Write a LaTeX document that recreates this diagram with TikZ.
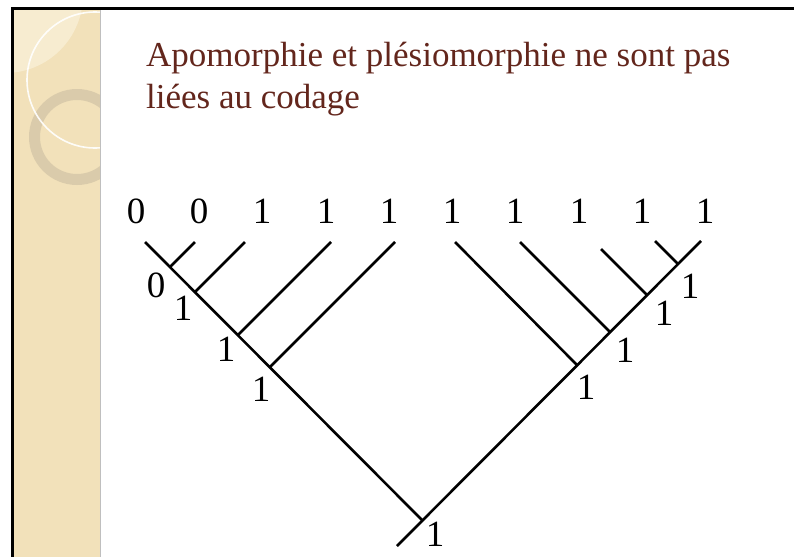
\documentclass[tikz,border=0pt]{standalone}
\usepackage{fontspec}
\setmainfont{Liberation Serif}
\definecolor{slidebeige}{RGB}{242,225,186}
\definecolor{lightbeige}{RGB}{247,236,208}
\definecolor{ringbeige}{RGB}{210,196,166}
\definecolor{titlered}{RGB}{99,38,28}
\usetikzlibrary{positioning}

\begin{document}
\begin{tikzpicture}[x=1pt,y=-1pt,
      title/.style={anchor=base west,inner sep=0pt,text=titlered,font=\fontsize{35}{42}\selectfont},
      tip/.style={anchor=base,inner sep=0pt,font=\fontsize{37}{44}\selectfont},
      state/.style={inner sep=0pt,font=\fontsize{37}{44}\selectfont},
      branch/.style={line width=2.6pt},
      frame/.style={line width=2.8pt}
    ]
    \useasboundingbox (0,0) rectangle (794,557);
    \fill[white] (0,0) rectangle (794,557);

    \fill[slidebeige] (14,10) rectangle (100,557);
    \begin{scope}
      \clip (14,10) rectangle (100,557);
      \fill[lightbeige] (5,-5) circle (78);
      \fill[ringbeige,opacity=0.75,even odd rule] (77,137) circle (48) (77,137) circle (37);
      \draw[white,line width=1.6pt,opacity=0.9] (95,80) circle (68);
    \end{scope}
    \draw[black!25,line width=1pt] (100,10) -- (100,557);
    \draw[frame] (11,8.6) -- (794,8.6);
    \draw[frame] (12.6,8) -- (12.6,557);

    \node[title] (title1) at (146,66) {Apomorphie et plésiomorphie ne sont pas};
    \node[title] (title2) at (146,108) {liées au codage};

    \node[tip] (a) at (136,223) {0};
    \node[tip] (b) at (199,223) {0};
    \node[tip] (c) at (262,223) {1};
    \node[tip] (d) at (326,223) {1};
    \node[tip] (e) at (389,223) {1};
    \node[tip] (f) at (452,223) {1};
    \node[tip] (g) at (515,223) {1};
    \node[tip] (h) at (579,223) {1};
    \node[tip] (i) at (642,223) {1};
    \node[tip] (j) at (705,223) {1};

    \coordinate (ta) at (145,242);
    \coordinate (tb) at (195,242);
    \coordinate (tc) at (245,242);
    \coordinate (td) at (331,242);
    \coordinate (te) at (395,242);
    \coordinate (tf) at (455,242);
    \coordinate (tg) at (520,242);
    \coordinate (th) at (601,249);
    \coordinate (ti) at (655,241);
    \coordinate (tj) at (701,241);

    \coordinate (nab) at (170,267);
    \coordinate (nac) at (195,292);
    \coordinate (nad) at (238,335);
    \coordinate (nae) at (270,367);
    \coordinate (root) at (422,520);
    \coordinate (stem) at (397,546);
    \coordinate (nfj) at (577,365);
    \coordinate (ngj) at (610,332);
    \coordinate (nhj) at (647,295);
    \coordinate (nij) at (678,264);

    \draw[branch] (ta) -- (root);
    \draw[branch] (stem) -- (tj);
    \draw[branch] (nab) -- (tb);
    \draw[branch] (nac) -- (tc);
    \draw[branch] (nad) -- (td);
    \draw[branch] (nae) -- (te);
    \draw[branch] (nfj) -- (tf);
    \draw[branch] (ngj) -- (tg);
    \draw[branch] (nhj) -- (th);
    \draw[branch] (nij) -- (ti);

    \node[state] (sab) at (156,285) {0};
    \node[state] (sac) at (183,308) {1};
    \node[state] (sad) at (226,349) {1};
    \node[state] (sae) at (261,389) {1};
    \node[state] (sfj) at (586,387) {1};
    \node[state] (sgj) at (625,350) {1};
    \node[state] (shj) at (664,313) {1};
    \node[state] (sij) at (690,286) {1};
    \node[state] (sroot) at (435,534) {1};
  \end{tikzpicture}
\end{document}
